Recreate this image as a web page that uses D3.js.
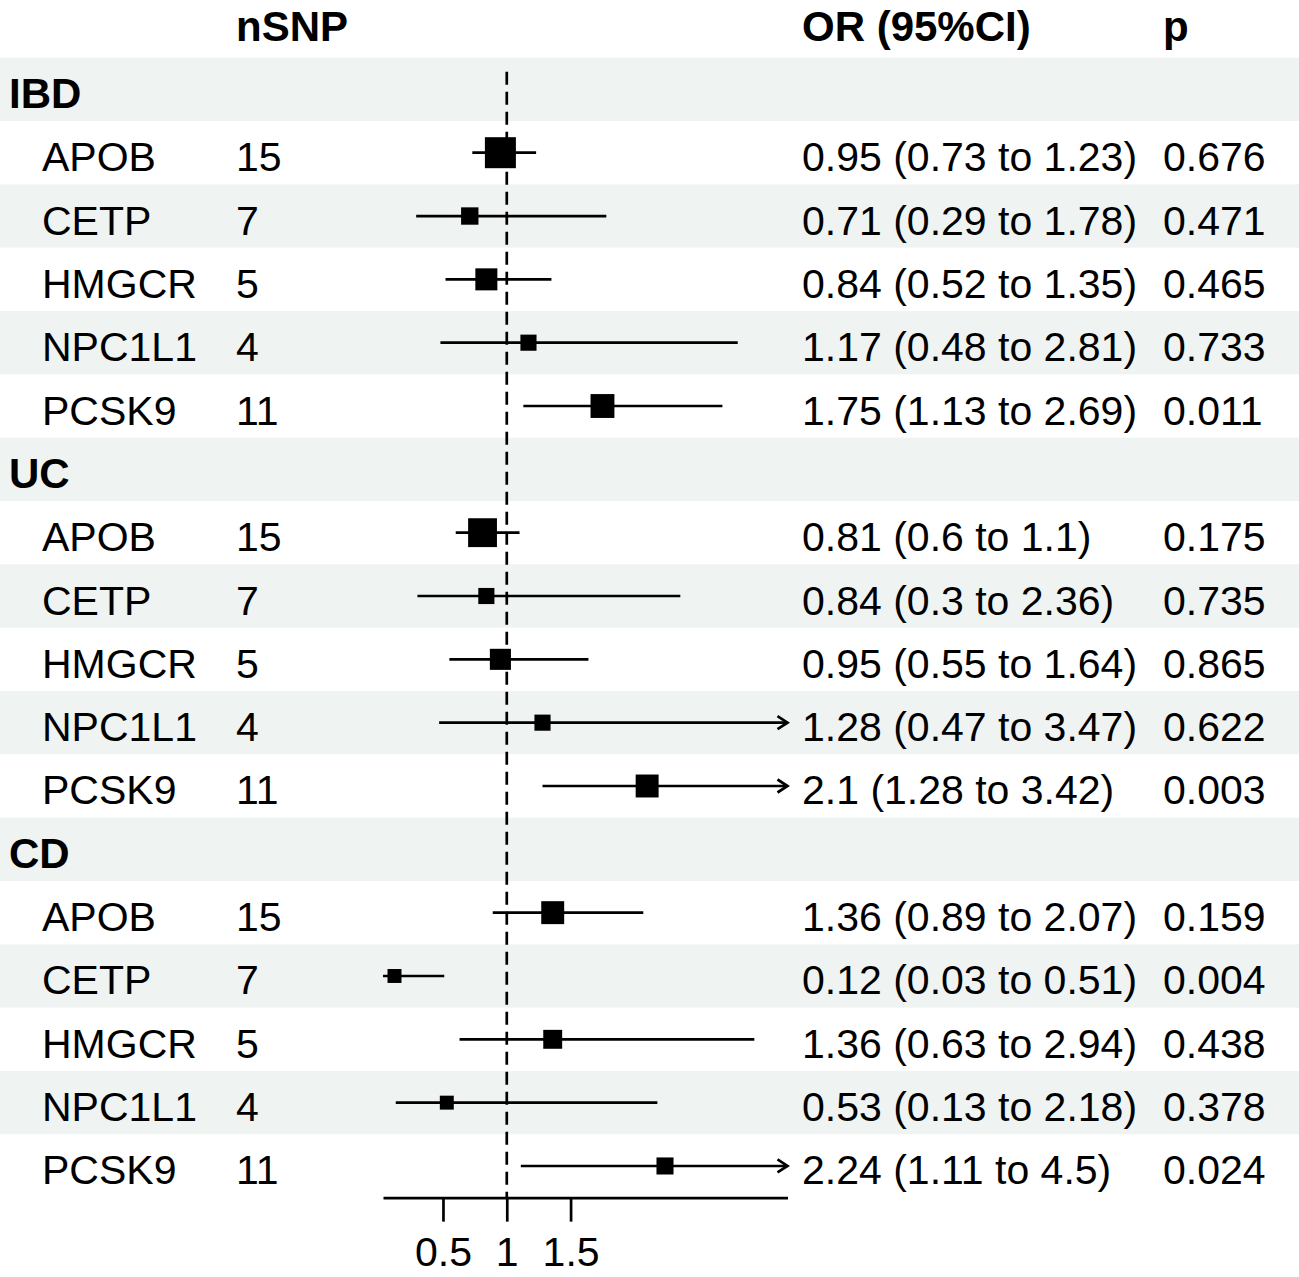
<!DOCTYPE html>
<html>
<head>
<meta charset="utf-8">
<script src="https://cdn.jsdelivr.net/npm/d3@7"></script>
<style>
  html, body { margin: 0; padding: 0; background: #ffffff; }
  svg { display: block; }
  text { font-family: "Liberation Sans", Arial, sans-serif; fill: #000; }
</style>
</head>
<body>
<div id="chart"></div>
<script>
// ---------------- data ----------------
const groups = ["IBD", "UC", "CD"];
const exposures = ["APOB", "CETP", "HMGCR", "NPC1L1", "PCSK9"];
const nSNP = [15, 7, 5, 4, 11];

// OR, lower, upper, p per group (order follows exposures)
const orIBD    = [0.95, 0.71, 0.84, 1.17, 1.75];
const lowerIBD = [0.73, 0.29, 0.52, 0.48, 1.13];
const upperIBD = [1.23, 1.78, 1.35, 2.81, 2.69];
const pIBD     = ["0.676", "0.471", "0.465", "0.733", "0.011"];

const orUC    = [0.81, 0.84, 0.95, 1.28, 2.1];
const lowerUC = [0.6, 0.3, 0.55, 0.47, 1.28];
const upperUC = [1.1, 2.36, 1.64, 3.47, 3.42];
const pUC     = ["0.175", "0.735", "0.865", "0.622", "0.003"];

const orCD    = [1.36, 0.12, 1.36, 0.53, 2.24];
const lowerCD = [0.89, 0.03, 0.63, 0.13, 1.11];
const upperCD = [2.07, 0.51, 2.94, 2.18, 4.5];
const pCD     = ["0.159", "0.004", "0.438", "0.378", "0.024"];

// relative box weights
const weightIBD = [1.00, 0.56, 0.71, 0.52, 0.77];
const weightUC  = [0.93, 0.52, 0.68, 0.52, 0.74];
const weightCD  = [0.74, 0.45, 0.61, 0.45, 0.55];

const headers = ["nSNP", "OR (95%CI)", "p"];
const xTicks = [0.5, 1, 1.5];
const xDomain = [0.03, 3.2];
const refValue = 1;

// ---------------- build rows ----------------
const groupData = [
  {name: groups[0], or: orIBD, lo: lowerIBD, hi: upperIBD, p: pIBD, w: weightIBD},
  {name: groups[1], or: orUC,  lo: lowerUC,  hi: upperUC,  p: pUC,  w: weightUC},
  {name: groups[2], or: orCD,  lo: lowerCD,  hi: upperCD,  p: pCD,  w: weightCD}
];
const rows = [];
groupData.forEach(g => {
  rows.push({type: "group", label: g.name});
  exposures.forEach((e, i) => {
    rows.push({
      type: "item", label: e, n: nSNP[i],
      or: g.or[i], lo: g.lo[i], hi: g.hi[i], p: g.p[i], w: g.w[i]
    });
  });
});

// ---------------- layout ----------------
const W = 1299, H = 1277;
const FS = 41;
const FSH = 42;
const rowTop = 57.7, rowH = 63.33;
const colLabelGroup = 9, colLabelItem = 42, colN = 236, colOR = 802, colP = 1163;
const baseOff = 18.5;

const svg = d3.select("#chart").append("svg")
  .attr("width", W).attr("height", H)
  .attr("viewBox", `0 0 ${W} ${H}`);

svg.append("rect").attr("width", W).attr("height", H).attr("fill", "#fff");

const y = d3.scaleBand()
  .domain(d3.range(rows.length))
  .range([rowTop, rowTop + rowH * rows.length])
  .padding(0);

const x = d3.scaleLinear().domain(xDomain).range([383, 787.5]);
const boxScale = d3.scaleLinear().domain([0, 1]).range([0, 31]);

// row backgrounds
svg.append("g").selectAll("rect")
  .data(rows)
  .join("rect")
  .attr("x", 0)
  .attr("y", (d, i) => y(i))
  .attr("width", W)
  .attr("height", y.bandwidth() + 0.5)
  .attr("fill", (d, i) => i % 2 === 0 ? "#eff3f2" : "#ffffff");

// header
const hdr = svg.append("g").attr("font-weight", "bold").attr("font-size", FSH);
hdr.append("text").attr("x", colN).attr("y", 40.5).text(headers[0]);
hdr.append("text").attr("x", colOR).attr("y", 40.5).text(headers[1]);
hdr.append("text").attr("x", colP).attr("y", 40.5).text(headers[2]);

// reference line
svg.append("line")
  .attr("x1", x(refValue)).attr("x2", x(refValue))
  .attr("y1", rowTop + 14).attr("y2", rowTop + rowH * rows.length)
  .attr("stroke", "#000").attr("stroke-width", 2.7)
  .attr("stroke-dasharray", "13,7");

// text columns
const rowG = svg.append("g").attr("font-size", FS);
rows.forEach((d, i) => {
  const cy = y(i) + y.bandwidth() / 2;
  if (d.type === "group") {
    rowG.append("text").attr("x", colLabelGroup).attr("y", cy + baseOff)
      .attr("font-weight", "bold").attr("font-size", FSH).text(d.label);
  } else {
    rowG.append("text").attr("x", colLabelItem).attr("y", cy + baseOff).text(d.label);
    rowG.append("text").attr("x", colN).attr("y", cy + baseOff).text(d.n);
    rowG.append("text").attr("x", colOR).attr("y", cy + baseOff)
      .text(`${d.or} (${d.lo} to ${d.hi})`);
    rowG.append("text").attr("x", colP).attr("y", cy + baseOff).text(d.p);
  }
});

// CIs and boxes
const items = rows.map((d, i) => ({...d, i})).filter(d => d.type === "item");
const xMax = xDomain[1];
const ciG = svg.append("g");
items.forEach(d => {
  const cy = y(d.i) + y.bandwidth() / 2;
  const x1 = x(Math.max(d.lo, xDomain[0]));
  const x2 = x(Math.min(d.hi, xMax));
  ciG.append("line")
    .attr("x1", x1).attr("x2", x2).attr("y1", cy).attr("y2", cy)
    .attr("stroke", "#000").attr("stroke-width", 2.7);
  if (d.hi > xMax) {
    ciG.append("path")
      .attr("d", `M${x2 - 10},${cy - 6.5}L${x2},${cy}L${x2 - 10},${cy + 6.5}`)
      .attr("fill", "none").attr("stroke", "#000").attr("stroke-width", 2.7);
  }
  const s = boxScale(d.w);
  ciG.append("rect")
    .attr("x", x(d.or) - s / 2).attr("y", cy - s / 2)
    .attr("width", s).attr("height", s)
    .attr("fill", "#000");
});

// axis
const axisY = rowTop + rowH * rows.length;
const axis = d3.axisBottom(x)
  .tickValues(xTicks)
  .tickSize(24)
  .tickSizeOuter(0)
  .tickFormat(d => String(d));
const ax = svg.append("g").attr("transform", `translate(0,${axisY})`).call(axis);
ax.select(".domain").attr("stroke", "#000").attr("stroke-width", 2.7);
ax.selectAll(".tick line").attr("stroke", "#000").attr("stroke-width", 2.7);
ax.selectAll(".tick text")
  .attr("font-size", FS)
  .attr("font-family", "Liberation Sans, Arial, sans-serif")
  .attr("fill", "#000")
  .attr("y", 68).attr("dy", 0);
</script>
</body>
</html>
